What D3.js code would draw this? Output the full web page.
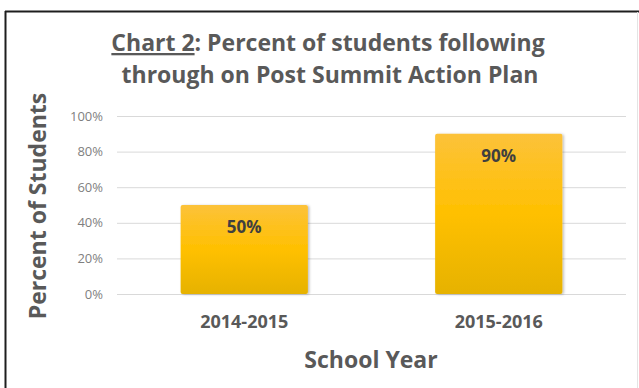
<!DOCTYPE html>
<html>
<head>
<meta charset="utf-8">
<script src="https://cdn.jsdelivr.net/npm/d3@7"></script>
<style>
  html, body { margin: 0; padding: 0; background: #ffffff; }
  svg { display: block; }
  text { font-family: "Open Sans", "DejaVu Sans", sans-serif; }
</style>
</head>
<body>
<svg id="chart" width="639" height="388"></svg>
<script>
// Chart data
const categories = ["2014-2015", "2015-2016"];
const values = [50, 90];
const yTicks = [0, 20, 40, 60, 80, 100];
const titleLines = ["Percent of students following", "through on Post Summit Action Plan"];
const titlePrefix = "Chart 2";
const xTitle = "School Year";
const yTitle = "Percent of Students";

const W = 639, H = 388;
const margin = { top: 116, right: 13, bottom: 94, left: 117 };
const svg = d3.select("#chart");

// frame around the chart
svg.append("rect").attr("x", 0).attr("y", 0).attr("width", W).attr("height", H).attr("fill", "#fff");
svg.append("line").attr("x1", 5).attr("x2", W).attr("y1", 11.5).attr("y2", 11.5)
  .attr("stroke", "#1e1e1e").attr("stroke-width", 2);
svg.append("line").attr("x1", 5.5).attr("x2", 5.5).attr("y1", 11).attr("y2", H)
  .attr("stroke", "#1e1e1e").attr("stroke-width", 2);
svg.append("line").attr("x1", 637.5).attr("x2", 637.5).attr("y1", 12).attr("y2", H)
  .attr("stroke", "#e4e4e4").attr("stroke-width", 1);

const x = d3.scaleBand().domain(categories)
  .range([margin.left, W - margin.right]).paddingInner(0.5).paddingOuter(0.25);
const y = d3.scaleLinear().domain([0, 100]).range([H - margin.bottom, margin.top]);

// bar gradient
const defs = svg.append("defs");
const grad = defs.append("linearGradient").attr("id", "barGrad")
  .attr("x1", 0).attr("y1", 0).attr("x2", 0).attr("y2", 1);
grad.append("stop").attr("offset", "0%").attr("stop-color", "#fcc23a");
grad.append("stop").attr("offset", "50%").attr("stop-color", "#ffc000");
grad.append("stop").attr("offset", "100%").attr("stop-color", "#e6b200");
const shadow = defs.append("filter").attr("id", "barShadow")
  .attr("x", "-10%").attr("y", "-10%").attr("width", "130%").attr("height", "130%");
shadow.append("feDropShadow").attr("dx", 1.5).attr("dy", 0.5).attr("stdDeviation", 1.2)
  .attr("flood-color", "#000").attr("flood-opacity", 0.25);

// gridlines
const yAxis = d3.axisLeft(y).tickValues(yTicks).tickSize(-(W - margin.right - margin.left))
  .tickPadding(14).tickFormat(d => d + "%");
const gy = svg.append("g").attr("transform", `translate(${margin.left},0)`).call(yAxis);
gy.select(".domain").remove();
gy.selectAll(".tick line").attr("stroke", "#d9d9d9").attr("stroke-width", 1);
gy.selectAll(".tick text").attr("fill", "#7f7f7f").style("font-size", "13px")
  .style("font-family", "'Open Sans', sans-serif");

// bars
svg.append("g").selectAll("rect").data(values).join("rect")
  .attr("x", (d, i) => x(categories[i]))
  .attr("y", d => y(d))
  .attr("width", x.bandwidth())
  .attr("height", d => y(0) - y(d))
  .attr("rx", 2)
  .attr("fill", "url(#barGrad)")
  .attr("filter", "url(#barShadow)");

// value labels inside bars
svg.append("g").selectAll("text").data(values).join("text")
  .attr("x", (d, i) => x(categories[i]) + x.bandwidth() / 2)
  .attr("y", d => y(d) + 28)
  .attr("text-anchor", "middle")
  .attr("fill", "#3f3f3f")
  .style("font-size", "17px").style("font-weight", "700")
  .text(d => d + "%");

// category axis labels
const xAxis = d3.axisBottom(x).tickSize(0).tickPadding(21);
const gx = svg.append("g").attr("transform", `translate(0,${y(0)})`).call(xAxis);
gx.select(".domain").remove();
gx.selectAll(".tick text").attr("fill", "#595959").style("font-size", "18px")
  .style("font-weight", "700").style("font-family", "'Open Sans', sans-serif");

// axis titles
svg.append("text").attr("x", 371).attr("y", 368).attr("text-anchor", "middle")
  .attr("fill", "#595959").style("font-size", "23px").style("font-weight", "700")
  .text(xTitle);
svg.append("text").attr("transform", "translate(46,206) rotate(-90)").attr("text-anchor", "middle")
  .attr("fill", "#595959").style("font-size", "23px").style("font-weight", "700")
  .text(yTitle);

// chart title
const t1 = svg.append("text").attr("x", 328).attr("y", 51).attr("text-anchor", "middle")
  .attr("fill", "#595959").style("font-size", "23px").style("font-weight", "700");
t1.append("tspan").style("text-decoration", "underline").text(titlePrefix);
t1.append("tspan").text(": " + titleLines[0]);
svg.append("text").attr("x", 330).attr("y", 83).attr("text-anchor", "middle")
  .attr("fill", "#595959").style("font-size", "23px").style("font-weight", "700")
  .text(titleLines[1]);
</script>
</body>
</html>
